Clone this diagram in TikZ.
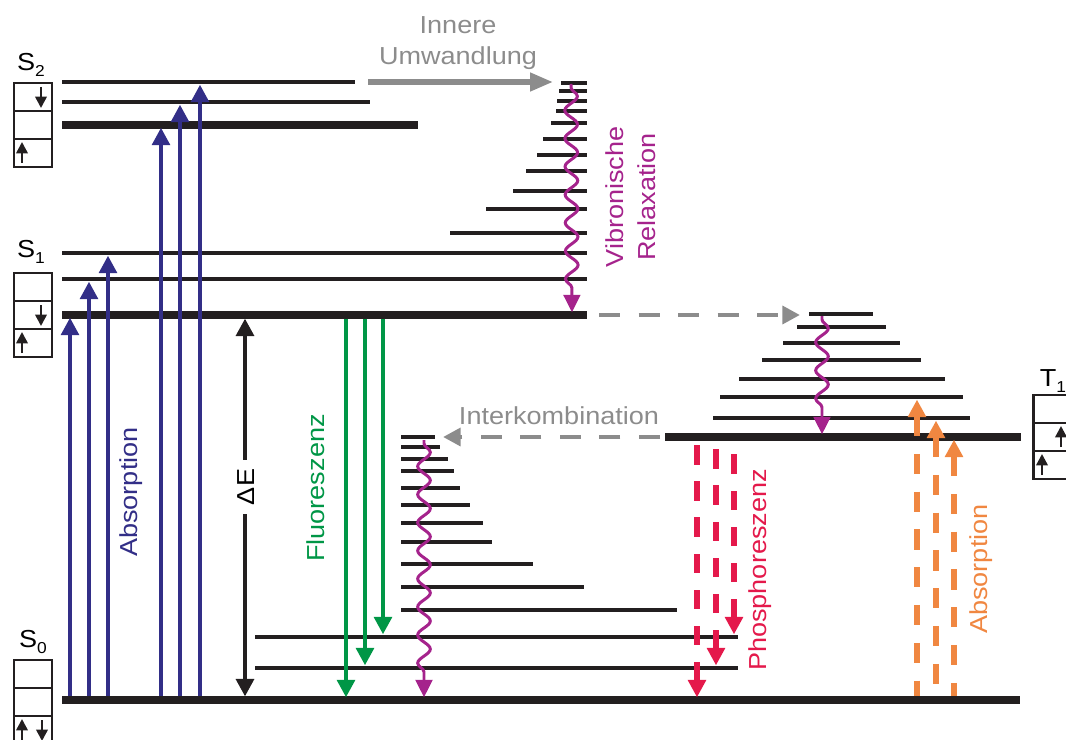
\documentclass[tikz,border=0pt]{standalone}
\usepackage{fontspec}
\setmainfont{Liberation Sans}[FakeStretch=1.1]
\usepackage{xcolor}
\usetikzlibrary{arrows.meta, decorations.pathmorphing}

\definecolor{lvlblack}{RGB}{35,31,32}
\definecolor{absblue}{RGB}{50,46,135}
\definecolor{fluogreen}{RGB}{0,150,70}
\definecolor{vibmag}{RGB}{165,35,140}
\definecolor{convgray}{RGB}{140,140,140}
\definecolor{phosred}{RGB}{228,25,75}
\definecolor{tabsorange}{RGB}{240,135,65}

\newcommand{\state}[2]{#1\raisebox{-3pt}{\fontsize{9}{9}\selectfont #2}}

\begin{document}
\begin{tikzpicture}[x=0.02cm, y=-0.02cm,
    font=\fontsize{14}{18}\selectfont,
    ground/.style={draw=lvlblack, line width=4pt},
    vib/.style={draw=lvlblack, line width=2.8pt},
    rung/.style={draw=lvlblack, line width=2.3pt},
    cell/.style={draw=lvlblack, line width=1.7pt},
    spin/.style={draw=lvlblack, line width=1.4pt, -{Triangle[width=6.5pt,length=6.5pt]}},
    tip/.style={-{Triangle[width=10pt,length=10pt]}},
    tipfirst/.style={{Triangle[width=10pt,length=10pt]}-},
    absup/.style={tip, draw=absblue, line width=2.4pt, shorten <=2pt, shorten >=1.5pt},
    fluo/.style={tip, draw=fluogreen, line width=2.6pt, shorten <=2pt, shorten >=1.5pt},
    phos/.style={tipfirst, draw=phosred, line width=3pt, dash pattern=on 11pt off 9.5pt, shorten <=1.5pt, shorten >=2pt},
    tabs/.style={tipfirst, draw=tabsorange, line width=3pt, dash pattern=on 11.5pt off 10pt, shorten <=1.5pt, shorten >=2pt},
    gap/.style={{Triangle[width=10pt,length=10pt]}-{Triangle[width=10pt,length=10pt]}, draw=lvlblack, line width=2.5pt, shorten <=2pt, shorten >=2pt},
    conv/.style={-{Triangle[width=10pt,length=13pt]}, draw=convgray, line width=3pt},
    isc/.style={tip, draw=convgray, line width=2.7pt, dash pattern=on 12pt off 10.5pt},
    wavy/.style={draw=vibmag, line width=1.7pt, -{Triangle[width=9.5pt,length=10pt]},
      decorate, decoration={snake, amplitude=3.6pt, segment length=16pt, pre length=2pt, post length=12pt},
      shorten >=1.5pt}]

  \useasboundingbox (0,0) rectangle (1066,740);

  % energy levels
  \coordinate (S0) at (62,700);
  \coordinate (S0v1) at (255,668);
  \coordinate (S0v2) at (255,637);
  \coordinate (S1) at (62,315);
  \coordinate (S1v1) at (62,279);
  \coordinate (S1v2) at (62,253);
  \coordinate (S2) at (62,125);
  \coordinate (S2v1) at (62,102);
  \coordinate (S2v2) at (62,82);
  \coordinate (T1) at (665,437);
  \coordinate (T1v1) at (713,418);
  \coordinate (T1v2) at (720,397);

  \draw[ground] (S0) -- (1020,0 |- S0);
  \draw[vib] (S0v1) -- (738,0 |- S0v1);
  \draw[vib] (S0v2) -- (738,0 |- S0v2);
  \draw[ground] (S1) -- (587,0 |- S1);
  \draw[vib] (S1v1) -- (587,0 |- S1v1);
  \draw[vib] (S1v2) -- (587,0 |- S1v2);
  \draw[ground] (S2) -- (418,0 |- S2);
  \draw[vib] (S2v1) -- (370,0 |- S2v1);
  \draw[vib] (S2v2) -- (355,0 |- S2v2);
  \draw[ground] (T1) -- (1021,0 |- T1);

  % vibrational ladders
  \foreach \y/\xl in {83/561, 91/559, 101/557, 111/556, 123/551, 139/543, 155/537, 171/526, 191/513, 209/486, 233/450}
    \draw[rung] (\xl,\y) -- (587,\y);
  \foreach \y/\xl/\xr in {314/809/873, 327/797/886, 343/783/900, 360/762/921, 379/739/945}
    \draw[rung] (\xl,\y) -- (\xr,\y);
  \draw[rung] (T1v1) -- (970,0 |- T1v1);
  \draw[rung] (T1v2) -- (963,0 |- T1v2);
  \foreach \y/\xr in {437/435, 447/440, 459/448, 471/454, 488/460, 505/470, 523/483, 542/492, 564/533, 587/584, 610/677}
    \draw[rung] (401,\y) -- (\xr,\y);

  % state boxes
  \foreach \bx/\by in {14/83, 14/273, 14/660, 1033/395}
    \foreach \k in {0,1,2}
      \draw[cell] (\bx,\by+28*\k) rectangle ++(38,28);
  \foreach \ex/\ey in {22/167, 22/357, 22/744, 1042/479, 1061/451}
    \draw[spin] (\ex,\ey-4) -- (\ex,\ey-25);
  \foreach \ex/\ey in {41/83, 41/301, 42/716}
    \draw[spin] (\ex,\ey+4) -- (\ex,\ey+25);

  \node (lblS2) at (31,65) {\state{S}{2}};
  \node (lblS1) at (31,252) {\state{S}{1}};
  \node (lblS0) at (33,642) {\state{S}{0}};
  \node (lblT1) at (1053,381) {\state{T}{1}};

  % transitions
  \foreach \x/\lv in {70/S1, 89/S1v1, 108/S1v2, 161/S2, 180/S2v1, 200/S2v2}
    \draw[absup] (\x,0 |- S0) -- (\x,0 |- \lv);
  \foreach \x/\lv in {346/S0, 365/S0v1, 383/S0v2}
    \draw[fluo] (\x,0 |- S1) -- (\x,0 |- \lv);
  \foreach \x/\lv in {697/S0, 716/S0v1, 734/S0v2}
    \draw[phos] (\x,0 |- \lv) -- (\x,0 |- T1);
  \foreach \x/\lv in {917/T1v2, 936/T1v1, 954/T1}
    \draw[tabs] (\x,0 |- \lv) -- (\x,0 |- S0);

  \draw[gap] (245,0 |- S1) -- (245,0 |- S0);
  \node[fill=white, rotate=90, inner sep=5pt] (dE) at (246,487) {ΔE};

  \draw[conv] (368,0 |- S2v2) -- (553,0 |- S2v2);
  \draw[isc] (599,0 |- S1) -- (800,0 |- S1);
  \draw[isc] (660,0 |- T1) -- (443,0 |- T1);

  \draw[wavy] (571,84) -- (572,0 |- S1);
  \draw[wavy] (822,316) -- (822,0 |- T1);
  \draw[wavy] (424,440) -- (424,0 |- S0);

  % labels
  \node[text=absblue, rotate=90] (absS) at (131,492) {Absorption};
  \node[text=fluogreen, rotate=90] (fluoLbl) at (316,488) {Fluoreszenz};
  \node[text=phosred, rotate=90] (phosLbl) at (760,570) {Phosphoreszenz};
  \node[text=tabsorange, rotate=90] (absT) at (981,569) {Absorption};
  \node[text=vibmag, rotate=90, align=center] (vibLbl) at (631,197) {Vibronische\\Relaxation};
  \node[text=convgray, align=center] (convLbl) at (458,43) {Innere\\Umwandlung};
  \node[text=convgray] (iscLbl) at (559,416) {Interkombination};
\end{tikzpicture}
\end{document}
